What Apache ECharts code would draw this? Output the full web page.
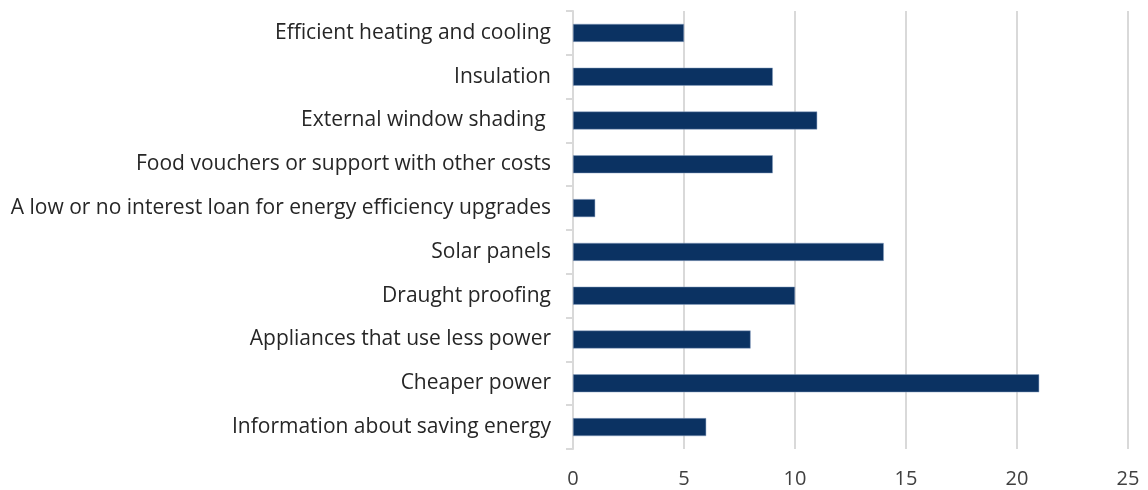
<!DOCTYPE html>
<html>
<head>
<meta charset="utf-8">
<script src="https://cdn.jsdelivr.net/npm/echarts@6/dist/echarts.min.js"></script>
<style>html,body{margin:0;padding:0;background:#fff;}#c{width:1148px;height:490px;}</style>
</head>
<body>
<div id="c"></div>
<script>
const categories = [
  "Efficient heating and cooling",
  "Insulation",
  "External window shading ",
  "Food vouchers or support with other costs",
  "A low or no interest loan for energy efficiency upgrades",
  "Solar panels",
  "Draught proofing",
  "Appliances that use less power",
  "Cheaper power",
  "Information about saving energy"
];
const values = [5, 9, 11, 9, 1, 14, 10, 8, 21, 6];
const xTicks = [0, 5, 10, 15, 20, 25];

const chart = echarts.init(document.getElementById('c'));
chart.setOption({
  animation: false,
  grid: {left: 573, right: 20, top: 11, bottom: 41, containLabel: false},
  xAxis: {
    type: 'value', min: xTicks[0], max: xTicks[xTicks.length - 1], interval: 5,
    axisLine: {show: false}, axisTick: {show: false},
    splitLine: {show: true, lineStyle: {color: '#d9d9d9', width: 2}},
    axisLabel: {color: '#404040', fontSize: 20, fontFamily: 'Open Sans', margin: 20}
  },
  yAxis: {
    type: 'category', data: categories, inverse: true,
    axisLine: {show: true, lineStyle: {color: '#d9d9d9', width: 2}},
    axisTick: {show: true, length: 7, lineStyle: {color: '#d9d9d9', width: 2}},
    axisLabel: {color: '#262626', fontSize: 21, fontFamily: 'Open Sans', margin: 22}
  },
  series: [{
    type: 'bar', data: values, barWidth: 18,
    itemStyle: {color: '#0b3262', borderColor: '#8ea4c4', borderWidth: 0.5}
  }]
});
</script>
</body>
</html>
